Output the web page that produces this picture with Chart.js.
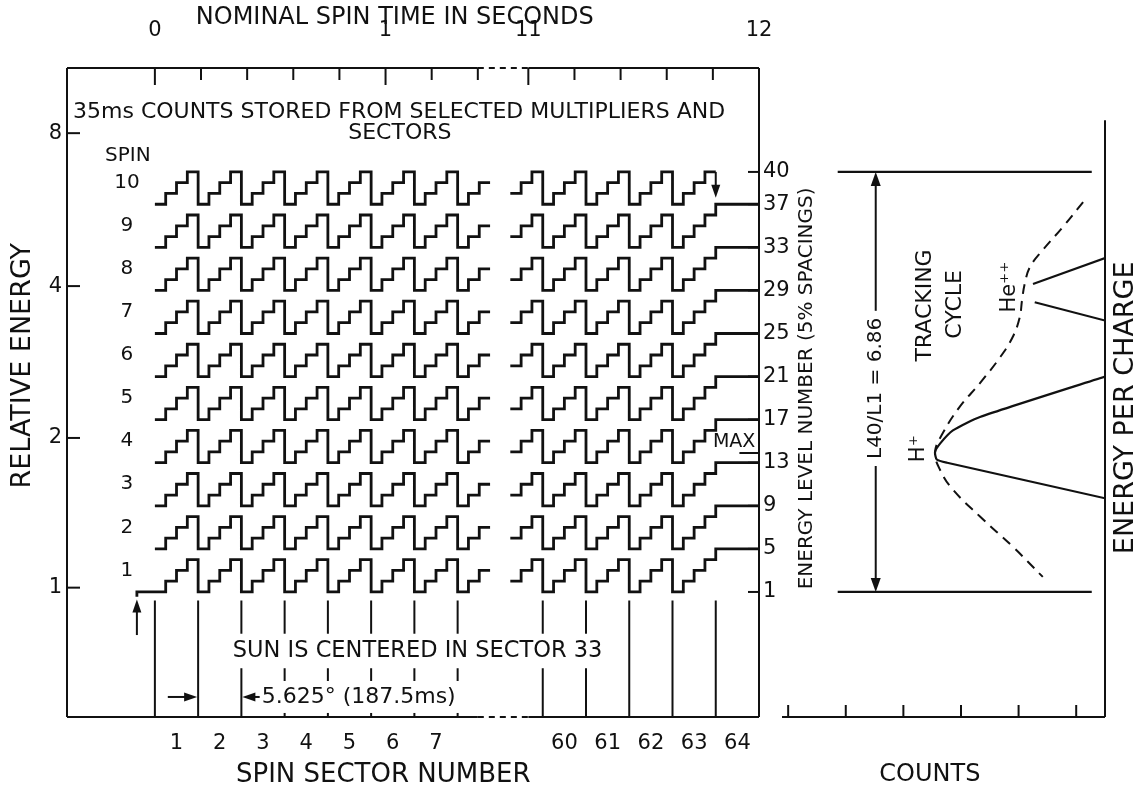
<!DOCTYPE html>
<html lang="en">
<head>
<meta charset="UTF-8">
<title>Spin sector energy stepping</title>
<script src="https://cdn.jsdelivr.net/npm/chart.js"></script>
<style>
  body { margin: 0; background: #fff; }
  #wrap { position: relative; width: 1146px; height: 789px; }
  #left { position: absolute; left: 0; top: 0; }
  #right { position: absolute; left: 770px; top: 0; }
</style>
</head>
<body>
<div id="wrap">
  <canvas id="left" width="830" height="789"></canvas>
  <canvas id="right" width="376" height="789"></canvas>
</div>
<script>
const INK = '#111';
const FONT = "'DejaVu Sans', sans-serif";

// ---- time / sector data (left panel) ----
const SECTOR_S = 0.1875;                 // one 5.625 deg sector of a 12 s spin
const BLOCK_SHIFT = 1.619;               // where the 11-12 s block restarts on the broken axis
const spinNumbers   = [1, 2, 3, 4, 5, 6, 7, 8, 9, 10];
const spinBaseLevel = [1, 5, 9, 13, 17, 21, 25, 29, 33, 37];
const stepLevels    = [0, 1, 2, 3];      // four 35 ms readings, one level up each
const leftSectors   = [1, 2, 3, 4, 5, 6, 7];
const leftTail      = { sector: 8, readings: [0, 1, 2] };
const rightHead     = { sector: 59, readings: [1, 2, 3] };
const rightSectors  = [60, 61, 62, 63];
const lastSector    = 64;
const spinOneStart  = -0.078;            // s, arrow marks the start of spin 1
const sectorEdges   = [0, 1, 2, 3, 4, 5, 6, 7, 59, 60, 61, 62, 63];
const sectorLabels  = [1, 2, 3, 4, 5, 6, 7, 60, 61, 62, 63, 64];
const timeLabels    = [0, 1, 11, 12];
const timeTicks     = [0, 0.2, 0.4, 0.6, 0.8, 1, 1.2, 1.4, 11, 11.2, 11.4, 11.6, 11.8, 12];
const axisGap       = [1.4, 11];
const levelTicks    = [1, 5, 9, 13, 17, 21, 25, 29, 33, 37, 40];
const relEnergyTicks = [1, 2, 4, 8];
const relEnergyLevel = [1.4, 15.3, 29.4, 43.6];

// ---- counts data (right panel) ----
const countTicks    = [0.5, 1.5, 2.5, 3.5, 4.5, 5.5];
const windowLevels  = [1, 40];
const windowCounts  = [4.64, 0.23];
const hPeakCounts   = [0, 2.17, 2.64, 2.86, 2.95, 2.92, 2.74, 0];
const hPeakLevels   = [21.0, 17.25, 16.0, 14.8, 14.0, 13.3, 13.0, 9.7];
const heUpperCounts = [1.25, 0];
const heUpperLevels = [29.6, 32.0];
const heLowerCounts = [1.22, 0];
const heLowerLevels = [27.9, 26.2];
const trackCounts = [0.38, 0.73, 1.08, 1.30, 1.39, 1.44, 1.48, 1.60, 1.82, 2.17, 2.52, 2.81, 2.95, 2.86, 2.64, 2.17, 1.60, 1.08];
const trackLevels = [37.2, 34.9, 32.75, 31.2, 29.7, 28.1, 26.5, 24.7, 22.8, 20.4, 18.2, 15.8, 14.0, 12.3, 10.5, 8.0, 5.2, 2.4];

const X_MIN = -0.381, X_MAX = 2.619;     // display seconds
const Y_MIN = -10.61, Y_MAX = 49.65;     // energy level number
const C_MAX = 5.607;

function disp(t) { return t > 6 ? t - 11 + BLOCK_SHIFT : t; }
function f(size) { return { family: FONT, size: size }; }
function zip(xs, ys) { return xs.map((x, i) => ({ x: x, y: ys[i] })); }

function reading(sector, q, level) {
  return { x: disp((sector - 1 + q / 4) * SECTOR_S), y: level };
}

function spinTrace(i) {
  const base = spinBaseLevel[i];
  const pts = [];
  if (i === 0) {
    pts.push({ x: disp(spinOneStart), y: base - 0.45 });
    pts.push({ x: disp(spinOneStart), y: base });
  }
  leftSectors.forEach(k => stepLevels.forEach((d, q) => pts.push(reading(k, q, base + d))));
  leftTail.readings.forEach(q => pts.push(reading(leftTail.sector, q, base + stepLevels[q])));
  const lt = leftTail.readings[leftTail.readings.length - 1];
  pts.push(reading(leftTail.sector, lt + 1, base + stepLevels[lt]));
  pts.push({ x: disp(1.5), y: null });
  rightHead.readings.forEach(q => pts.push(reading(rightHead.sector, q, base + stepLevels[q])));
  rightSectors.forEach(k => stepLevels.forEach((d, q) => pts.push(reading(k, q, base + d))));
  if (i < spinNumbers.length - 1) {
    pts.push(reading(lastSector, 0, base + 4));
    pts.push(reading(lastSector, 4, base + 4));
  } else {
    pts.push(reading(lastSector, 0, base + 3));
  }
  return pts;
}

const spinDatasets = spinNumbers.map((n, i) => ({
  label: 'Spin ' + n,
  data: spinTrace(i),
  stepped: 'before',
  borderColor: INK,
  borderWidth: 2.8,
  pointRadius: 0,
  fill: false
}));

const edgePoints = [];
sectorEdges.forEach(k => {
  edgePoints.push({ x: disp(k * SECTOR_S), y: 0.2 });
  edgePoints.push({ x: disp(k * SECTOR_S), y: Y_MIN });
  edgePoints.push({ x: disp(k * SECTOR_S), y: null });
});

function drawText(ctx, str, x, y, size, opts) {
  opts = opts || {};
  ctx.save();
  ctx.translate(x, y);
  if (opts.rotate) ctx.rotate(opts.rotate);
  ctx.font = size + 'px ' + FONT;
  ctx.textAlign = opts.align || 'center';
  ctx.textBaseline = 'middle';
  if (opts.bg) {
    const w = ctx.measureText(str).width;
    const x0 = ctx.textAlign === 'left' ? 0 : (ctx.textAlign === 'right' ? -w : -w / 2);
    ctx.fillStyle = '#fff';
    ctx.fillRect(x0 - opts.bg, -size / 2 - opts.bg, w + 2 * opts.bg, size + 2 * opts.bg);
  }
  ctx.fillStyle = INK;
  ctx.fillText(str, 0, 0);
  ctx.restore();
}

function seg(ctx, x1, y1, x2, y2, dash) {
  ctx.save();
  if (dash) ctx.setLineDash(dash);
  ctx.beginPath(); ctx.moveTo(x1, y1); ctx.lineTo(x2, y2); ctx.stroke();
  ctx.restore();
}

function arrow(ctx, x1, y1, x2, y2, head, half) {
  head = head || 13; half = half || 4.5;
  const a = Math.atan2(y2 - y1, x2 - x1), c = Math.cos(a), s = Math.sin(a);
  seg(ctx, x1, y1, x2 - c * head * 0.6, y2 - s * head * 0.6);
  ctx.beginPath();
  ctx.moveTo(x2, y2);
  ctx.lineTo(x2 - c * head + s * half, y2 - s * head - c * half);
  ctx.lineTo(x2 - c * head - s * half, y2 - s * head + c * half);
  ctx.closePath();
  ctx.fill();
}

const leftDecor = {
  id: 'leftDecor',
  afterDatasetsDraw(chart) {
    const { ctx, chartArea: a, scales } = chart;
    const X = t => scales.x.getPixelForValue(disp(t));
    const Y = L => scales.y.getPixelForValue(L);
    ctx.save();
    ctx.strokeStyle = INK; ctx.fillStyle = INK; ctx.lineWidth = 2;

    // frame, broken between the two time blocks
    seg(ctx, a.left, a.top, a.left, a.bottom);
    seg(ctx, a.right, a.top, a.right, a.bottom);
    const g0 = X(axisGap[0]), g1 = X(axisGap[1]);
    [a.top, a.bottom].forEach(yy => {
      seg(ctx, a.left, yy, g0, yy);
      seg(ctx, g0, yy, g1, yy, [6, 5]);
      seg(ctx, g1, yy, a.right, yy);
    });

    // inward ticks
    timeTicks.forEach(t => {
      const len = timeLabels.includes(t) ? 17 : 12;
      seg(ctx, X(t), a.top, X(t), a.top + len);
    });
    relEnergyLevel.forEach(L => seg(ctx, a.left, Y(L), a.left + 13, Y(L)));
    levelTicks.forEach(L => seg(ctx, a.right - 11, Y(L), a.right, Y(L)));

    // axis titles
    drawText(ctx, 'NOMINAL SPIN TIME IN SECONDS', X(1.04), 18, 24);
    drawText(ctx, 'SPIN SECTOR NUMBER', X(0.99), 775, 26);
    drawText(ctx, 'RELATIVE ENERGY', 23, Y(22.0), 27, { rotate: -Math.PI / 2 });
    drawText(ctx, 'ENERGY LEVEL NUMBER (5% SPACINGS)', X(11 + 2.827 - BLOCK_SHIFT), Y(19.9), 20, { rotate: -Math.PI / 2 });

    // annotations
    drawText(ctx, '35ms COUNTS STORED FROM SELECTED MULTIPLIERS AND', X(-0.355), Y(45.57), 22, { align: 'left' });
    drawText(ctx, 'SECTORS', X(1.062), Y(43.62), 22);
    drawText(ctx, 'SPIN', X(-0.117), Y(41.5), 20);
    spinNumbers.forEach((n, i) => drawText(ctx, String(n), X(-0.121), Y(spinBaseLevel[i] + 2), 20));

    drawText(ctx, 'SUN IS CENTERED IN SECTOR 33', X(1.139), Y(-4.48), 22.5, { bg: 6 });
    drawText(ctx, '5.625\u00B0 (187.5ms)', X(0.463), Y(-8.75), 22, { align: 'left', bg: 5 });
    arrow(ctx, X(0.056), Y(-8.75), X(SECTOR_S) - 1, Y(-8.75));
    arrow(ctx, X(0.463) - 2, Y(-8.75), X(2 * SECTOR_S) + 1, Y(-8.75));

    // start of spin 1, end of spin 10
    arrow(ctx, X(spinOneStart), Y(-3.0), X(spinOneStart), Y(0.3));
    arrow(ctx, X(63 * SECTOR_S), Y(40), X(63 * SECTOR_S), Y(37.6));

    drawText(ctx, 'MAX', X(11.892), Y(14.93), 19);
    seg(ctx, X(11.915), Y(13.9), a.right, Y(13.9));
    ctx.restore();
  }
};

new Chart(document.getElementById('left'), {
  type: 'line',
  data: {
    datasets: spinDatasets.concat([{
      label: 'sector edges',
      data: edgePoints,
      borderColor: INK,
      borderWidth: 2,
      pointRadius: 0,
      fill: false
    }])
  },
  options: {
    responsive: false,
    animation: false,
    layout: { padding: 0 },
    plugins: { legend: { display: false }, tooltip: { enabled: false } },
    scales: {
      x: {
        type: 'linear', position: 'bottom', min: X_MIN, max: X_MAX,
        afterBuildTicks: s => { s.ticks = sectorLabels.map(k => ({ value: disp((k - 0.5) * SECTOR_S) })); },
        afterFit: s => { s.height = 72; },
        ticks: { autoSkip: false, maxRotation: 0, padding: 14, color: INK, font: f(21),
                 callback: (v, i) => String(sectorLabels[i]) },
        grid: { display: false, drawTicks: false },
        border: { display: false }
      },
      xTop: {
        type: 'linear', position: 'top', min: X_MIN, max: X_MAX,
        afterBuildTicks: s => { s.ticks = timeLabels.map(t => ({ value: disp(t) })); },
        afterFit: s => { s.height = 68; },
        ticks: { autoSkip: false, maxRotation: 0, padding: 25, color: INK, font: f(21),
                 callback: (v, i) => String(timeLabels[i]) },
        grid: { display: false, drawTicks: false },
        border: { display: false }
      },
      y: {
        type: 'linear', position: 'left', min: Y_MIN, max: Y_MAX,
        afterBuildTicks: s => { s.ticks = relEnergyLevel.map(L => ({ value: L })); },
        afterFit: s => { s.width = 67; },
        ticks: { autoSkip: false, padding: 5, color: INK, font: f(21),
                 callback: (v, i) => String(relEnergyTicks[i]) },
        grid: { display: false, drawTicks: false },
        border: { display: false }
      },
      yRight: {
        type: 'linear', position: 'right', min: Y_MIN, max: Y_MAX,
        afterBuildTicks: s => { s.ticks = levelTicks.map(L => ({ value: L })); },
        afterFit: s => { s.width = 71; },
        ticks: { autoSkip: false, padding: 4, color: INK, font: f(21),
                 callback: (v, i) => String(levelTicks[i]) },
        grid: { display: false, drawTicks: false },
        border: { display: false }
      }
    }
  },
  plugins: [leftDecor]
});

// ---- right panel: counts versus energy per charge ----
const rightDecor = {
  id: 'rightDecor',
  afterDatasetsDraw(chart) {
    const { ctx, chartArea: a, scales } = chart;
    const X = c => scales.x.getPixelForValue(c);
    const Y = L => scales.y.getPixelForValue(L);
    ctx.save();
    ctx.strokeStyle = INK; ctx.fillStyle = INK; ctx.lineWidth = 2;

    seg(ctx, a.left, a.bottom, a.right, a.bottom);
    seg(ctx, X(0), Y(44.8), X(0), a.bottom);
    countTicks.forEach(c => seg(ctx, X(c), a.bottom, X(c), a.bottom - 12));

    // L40 / L1 span
    const xa = X(3.98);
    arrow(ctx, xa, Y(20), xa, Y(windowLevels[1]), 14, 5);
    arrow(ctx, xa, Y(20), xa, Y(windowLevels[0]), 14, 5);
    drawText(ctx, 'L40/L1 = 6.86', xa, Y(19.9), 20, { rotate: -Math.PI / 2, bg: 7 });

    drawText(ctx, 'TRACKING', X(3.125), Y(27.6), 22, { rotate: -Math.PI / 2 });
    drawText(ctx, 'CYCLE', X(2.60), Y(27.7), 22, { rotate: -Math.PI / 2 });
    drawText(ctx, 'H\u207A', X(3.23), Y(14.3), 21, { rotate: -Math.PI / 2 });
    drawText(ctx, 'He\u207A\u207A', X(1.65), Y(29.3), 21, { rotate: -Math.PI / 2 });

    drawText(ctx, 'COUNTS', X(3.04), 775, 24);
    drawText(ctx, 'ENERGY PER CHARGE', X(-0.37), Y(18.1), 27, { rotate: -Math.PI / 2 });
    ctx.restore();
  }
};

const solid = { borderColor: INK, borderWidth: 2.2, pointRadius: 0, fill: false };

new Chart(document.getElementById('right'), {
  type: 'line',
  data: {
    datasets: [
      Object.assign({ label: 'H+', data: zip(hPeakCounts, hPeakLevels), tension: 0.2 }, solid),
      Object.assign({ label: 'He++ upper', data: zip(heUpperCounts, heUpperLevels) }, solid),
      Object.assign({ label: 'He++ lower', data: zip(heLowerCounts, heLowerLevels) }, solid),
      Object.assign({ label: 'L40', data: zip(windowCounts, [windowLevels[1], windowLevels[1]]) }, solid),
      Object.assign({ label: 'L1', data: zip(windowCounts, [windowLevels[0], windowLevels[0]]) }, solid),
      { label: 'tracking cycle', data: zip(trackCounts, trackLevels), borderColor: INK, borderWidth: 2,
        borderDash: [10, 7], tension: 0.4, pointRadius: 0, fill: false }
    ]
  },
  options: {
    responsive: false,
    animation: false,
    layout: { padding: { left: 12, right: 41, top: 68, bottom: 0 } },
    plugins: { legend: { display: false }, tooltip: { enabled: false } },
    scales: {
      x: {
        type: 'linear', position: 'bottom', reverse: true, min: 0, max: C_MAX,
        afterFit: s => { s.height = 72; },
        ticks: { display: false },
        grid: { display: false, drawTicks: false },
        border: { display: false }
      },
      y: { type: 'linear', display: false, min: Y_MIN, max: Y_MAX }
    }
  },
  plugins: [rightDecor]
});
</script>
</body>
</html>
